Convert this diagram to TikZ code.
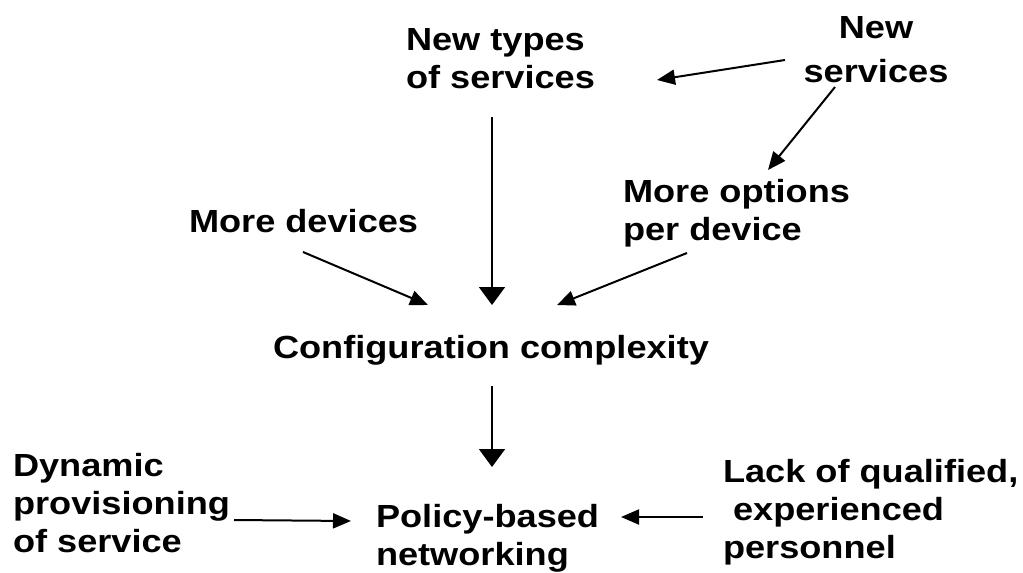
\documentclass[tikz,border=0pt]{standalone}
\usepackage{fontspec}
\setmainfont{Liberation Sans}[FakeStretch=1.13]
\usepackage{tikz}
\usetikzlibrary{arrows.meta, positioning, calc}

\begin{document}
\begin{tikzpicture}[
    x=1pt, y=-1pt,
    font=\fontsize{32}{38}\selectfont\bfseries,
    line width=2pt,
    label/.style={inner sep=0pt, anchor=base west, align=left},
    arrow/.style={-{Triangle[length=18pt, width=15pt]}},
    varrow/.style={-{Triangle[length=18pt, width=26pt]}},
]
    \useasboundingbox[fill=white] (0,0) rectangle (1023,573);

    % Causes at the top
    \node[label] (newtypes) at (405,88) {New types\\of services};
    \node[label, anchor=base, align=center] (newserv) at (876,82) {New\\[6pt]services};
    \node[label] (options) at (622,240) {More options\\per device};
    \node[label] (devices) at (188,232) {More devices};

    % Middle
    \node[label] (config) at (272,358) {Configuration complexity};

    % Bottom row
    \node[label] (dynamic) at (12,552) {Dynamic\\provisioning\\of service};
    \node[label] (policy) at (375,565) {Policy-based\\networking};
    \node[label] (lack) at (722,558) {Lack of qualified,\\\ experienced\\personnel};

    \draw[arrow] ($(newserv.base)+(-91,-22)$) -- ($(newtypes.base west)+(252,-8)$);
    \draw[arrow] ($(newserv.base)+(-41,5)$) -- ($(options.base west)+(146,-70)$);
    \draw[varrow] ($(newtypes.base west)+(87,29)$) -- ($(config.base west)+(220,-53)$);
    \draw[arrow] ($(devices.base west)+(115,20)$) -- ($(config.base west)+(156,-53)$);
    \draw[arrow] ($(options.base west)+(65,13)$) -- ($(config.base west)+(285,-53)$);

    \draw[varrow] ($(config.base west)+(220,28)$) -- ($(policy.base west)+(117,-98)$);
    \draw[arrow] ($(dynamic.base west)+(222,-32)$) -- ($(policy.base west)+(-24,-44)$);
    \draw[arrow] ($(lack.base west)+(-19,-41)$) -- ($(policy.base west)+(246,-48)$);

\end{tikzpicture}
\end{document}
